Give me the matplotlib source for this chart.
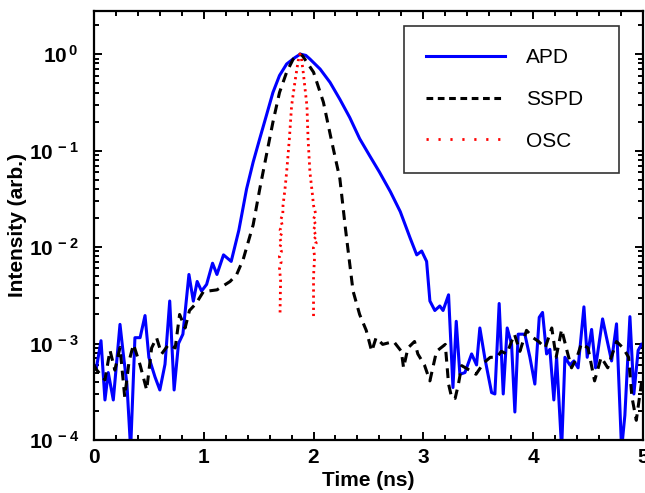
import math
import matplotlib
matplotlib.use("Agg")
import matplotlib.pyplot as plt
from matplotlib.lines import Line2D
from matplotlib.ticker import LogLocator, MultipleLocator, FuncFormatter, NullFormatter

plt.rcParams['font.family'] = ['Liberation Sans', 'DejaVu Sans']
plt.rcParams['mathtext.fontset'] = 'custom'
plt.rcParams['mathtext.rm'] = 'Liberation Sans'
plt.rcParams['mathtext.bf'] = 'Liberation Sans:bold'

# ---- data ----
apd_t = [0.00, 0.02, 0.064, 0.10, 0.13, 0.176, 0.237, 0.267, 0.30, 0.334, 0.373, 0.42, 0.465, 0.50,
         0.556, 0.60, 0.647, 0.69, 0.73, 0.77, 0.81, 0.865, 0.905, 0.94, 0.98, 1.026, 1.08, 1.12,
         1.18, 1.25, 1.32, 1.39, 1.45, 1.51, 1.57, 1.63, 1.69, 1.755, 1.83, 1.88, 1.93, 1.967,
         2.06, 2.15, 2.24, 2.33, 2.42, 2.51, 2.60, 2.70, 2.79, 2.88, 2.94, 2.985, 3.03, 3.06,
         3.105, 3.15, 3.18, 3.23, 3.27, 3.30, 3.333, 3.379, 3.44, 3.485, 3.515, 3.561, 3.622,
         3.652, 3.691, 3.728, 3.764, 3.804, 3.834, 3.864, 3.925, 3.971, 4.016, 4.056, 4.086,
         4.123, 4.153, 4.189, 4.214, 4.26, 4.29, 4.335, 4.372, 4.41, 4.463, 4.493, 4.533, 4.569,
         4.633, 4.669, 4.715, 4.76, 4.806, 4.836, 4.882, 4.918, 4.957, 4.988]
apd_i = [6e-4, 5.4e-4, 1.07e-3, 2.6e-4, 5e-4, 2.6e-4, 1.58e-3, 7.8e-4, 3.8e-4, 8e-5, 1.15e-3, 1.15e-3,
         1.95e-3, 7.2e-4, 4.5e-4, 3.3e-4, 6.1e-4, 2.76e-3, 3.3e-4, 1e-3, 1.25e-3, 5.2e-3, 2.75e-3,
         4.4e-3, 3.5e-3, 4.1e-3, 6.8e-3, 5.2e-3, 8.3e-3, 7.1e-3, 1.5e-2, 4.0e-2, 7.6e-2, 0.133,
         0.23, 0.40, 0.60, 0.79, 0.92, 1.0, 0.97, 0.89, 0.70, 0.51, 0.34, 0.22, 0.133, 0.089,
         0.060, 0.0375, 0.0233, 0.0124, 8.3e-3, 9.1e-3, 7.1e-3, 2.76e-3, 2.2e-3, 2.45e-3, 2.2e-3,
         3.2e-3, 3.5e-4, 1.7e-3, 4.8e-4, 5e-4, 7.8e-4, 6e-4, 1.45e-3, 7e-4, 3.1e-4, 3e-4, 2.6e-3,
         3e-4, 1.45e-3, 9.8e-4, 1.95e-4, 1.25e-3, 1.25e-3, 7.2e-4, 3.8e-4, 1.87e-3, 2.1e-3,
         7.8e-4, 8.7e-4, 2.6e-4, 7.2e-4, 8e-5, 7.2e-4, 6e-4, 6.6e-4, 5.6e-4, 2.4e-3, 7.2e-4,
         1.4e-3, 5.6e-4, 1.8e-3, 1.15e-3, 6.6e-4, 1.6e-3, 8e-5, 1.8e-4, 1.9e-3, 3e-4, 8.5e-4, 9.8e-4]

sspd_t = [0.00, 0.02, 0.10, 0.146, 0.19, 0.237, 0.28, 0.32, 0.36, 0.42, 0.48, 0.525, 0.57, 0.616,
          0.68, 0.74, 0.78, 0.83, 0.87, 0.93, 1.0, 1.04, 1.12, 1.24, 1.30, 1.36, 1.45, 1.51, 1.57,
          1.63, 1.69, 1.755, 1.815, 1.876, 1.90, 2.0, 2.09, 2.16, 2.24, 2.29, 2.316, 2.36, 2.42,
          2.48, 2.53, 2.57, 2.63, 2.73, 2.80, 2.82, 2.86, 2.92, 2.95, 3.01, 3.06, 3.12, 3.20, 3.23,
          3.26, 3.29, 3.32, 3.35, 3.42, 3.48, 3.55, 3.61, 3.67, 3.71, 3.76, 3.83, 3.88, 3.94, 4.0,
          4.05, 4.11, 4.17, 4.21, 4.26, 4.31, 4.35, 4.40, 4.44, 4.50, 4.56, 4.62, 4.68, 4.76, 4.82,
          4.87, 4.90, 4.94, 4.99]
sspd_i = [6e-4, 5.4e-4, 4.2e-4, 8.5e-4, 5.3e-4, 9.1e-4, 2.8e-4, 6.6e-4, 9.8e-4, 6e-4, 3.3e-4, 9e-4,
          1.15e-3, 7.8e-4, 9.8e-4, 9e-4, 2.0e-3, 1.45e-3, 2.2e-3, 2.6e-3, 3.5e-3, 3.5e-3, 3.6e-3,
          4.4e-3, 5.2e-3, 7.5e-3, 1.7e-2, 4.0e-2, 0.089, 0.197, 0.40, 0.65, 0.89, 1.0, 0.96, 0.65,
          0.317, 0.133, 0.051, 0.0158, 9e-3, 3.5e-3, 2.0e-3, 1.37e-3, 8.3e-4, 1.15e-3, 9.8e-4,
          1.05e-3, 8.3e-4, 5.6e-4, 9e-4, 1.05e-3, 7.8e-4, 6e-4, 4.1e-4, 8.3e-4, 9.8e-4, 3.8e-4,
          2.7e-4, 2.7e-4, 3.8e-4, 5.9e-4, 5.3e-4, 4.8e-4, 6.3e-4, 7.2e-4, 7.2e-4, 8.3e-4, 7.8e-4,
          1.25e-3, 8.3e-4, 1.37e-3, 1.15e-3, 1.05e-3, 9e-4, 1.45e-3, 7.2e-4, 1.4e-3, 8.3e-4,
          5.6e-4, 7.2e-4, 1.0e-3, 9e-4, 4.1e-4, 7.2e-4, 5.6e-4, 1.05e-3, 9e-4, 7.2e-4, 2.8e-4,
          1.6e-4, 4.1e-4]

osc_t = [1.695, 1.697, 1.700, 1.690, 1.705, 1.688, 1.708, 1.692, 1.710, 1.690, 1.712, 1.695, 1.715,
         1.700, 1.720, 1.722, 1.740, 1.755, 1.78, 1.80, 1.83, 1.86, 1.876, 1.89, 1.906, 1.94, 1.95,
         1.967, 1.99, 2.00, 2.02, 1.995, 2.025, 1.995, 2.03, 2.00, 2.025, 1.998, 2.01, 2.00, 2.00,
         2.00]
osc_i = [2.1e-3, 3e-3, 4.5e-3, 6e-3, 7e-3, 8e-3, 9e-3, 1.0e-2, 1.1e-2, 1.25e-2, 1.4e-2, 1.5e-2,
         1.7e-2, 1.9e-2, 2.2e-2, 2.7e-2, 4e-2, 0.06, 0.133, 0.29, 0.51, 0.85, 1.0, 0.9, 0.65, 0.29,
         0.133, 0.06, 0.035, 0.027, 0.022, 0.019, 0.017, 0.015, 0.013, 0.012, 0.011, 0.0098, 0.008,
         0.005, 0.003, 1.9e-3]

labels = ['APD', 'SSPD', 'OSC']

# ---- figure ----
fig = plt.figure(figsize=(6.45, 4.93), dpi=100)
ax = fig.add_axes([0.1457, 0.1075, 0.851, 0.8702])

ax.plot(apd_t, apd_i, color='#0000ff', lw=2.2)
ax.plot(sspd_t, sspd_i, color='black', lw=2.2, dashes=(3.2, 2.2))
ax.plot(osc_t, osc_i, color='#ff0000', lw=2.0, dashes=(0.8, 1.4))

ax.set_yscale('log')
ax.set_xlim(0, 5)
ax.set_ylim(1e-4, 2.8)

ax.xaxis.set_major_locator(MultipleLocator(1))
ax.xaxis.set_minor_locator(MultipleLocator(0.2))
ax.yaxis.set_major_locator(LogLocator(base=10, numticks=10))
ax.yaxis.set_minor_locator(LogLocator(base=10, subs=range(2, 10), numticks=20))
ax.yaxis.set_minor_formatter(NullFormatter())

def yfmt(v, pos):
    e = int(round(math.log10(v)))
    return r'$\mathbf{10^{\,%d}}$' % e
ax.yaxis.set_major_formatter(FuncFormatter(yfmt))
ax.xaxis.set_major_formatter(FuncFormatter(lambda v, p: '%d' % v))

for s in ax.spines.values():
    s.set_linewidth(1.6)
ax.tick_params(which='both', direction='in', top=True, right=True, width=1.4)
ax.tick_params(which='major', length=6)
ax.tick_params(which='minor', length=3.5)
ax.tick_params(axis='x', which='major', labelsize=15, pad=6)
ax.tick_params(axis='y', which='major', labelsize=15, pad=11)
for lab in ax.get_xticklabels():
    lab.set_fontweight('bold')

ax.set_xlabel('Time (ns)', fontsize=15, fontweight='bold')
ax.set_ylabel('Intensity (arb.)', fontsize=15, fontweight='bold')
ax.xaxis.set_label_coords(0.5, -0.072)
ax.yaxis.set_label_coords(-0.122, 0.5)

handles = [Line2D([], [], color='#0000ff', lw=2.2),
           Line2D([], [], color='black', lw=2.2, dashes=(2.2, 1.5)),
           Line2D([], [], color='#ff0000', lw=2.0, dashes=(0.8, 3.5))]
leg = ax.legend(handles, labels, loc='upper left', bbox_to_anchor=(0.565, 0.625, 0.391, 0.34),
                mode='expand', borderaxespad=0, fontsize=15, handlelength=3.8, handletextpad=1.0,
                labelspacing=1.1, borderpad=1.05, fancybox=False, frameon=True)
leg.get_frame().set_edgecolor('black')
leg.get_frame().set_linewidth(1.2)

fig.savefig('out.png', dpi=100)
